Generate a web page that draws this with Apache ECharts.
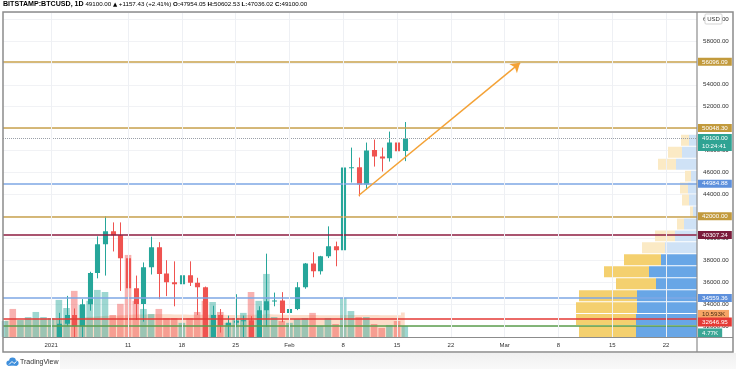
<!DOCTYPE html>
<html><head><meta charset="utf-8">
<script src="https://cdn.jsdelivr.net/npm/echarts@6/dist/echarts.min.js"></script>
<style>html,body{margin:0;padding:0;background:#fff;}#c{width:736px;height:369px;}</style>
</head><body><div id="c"></div>
<script>
// ---------- data ----------
const firstDate = '2020-12-26';
const opens  = [24700,26450,26250,27050,27370,28880,28990,
  29400,32200,33000,31970,33980,36830,39450,40640,40270,
  38180,35450,34000,37360,39180,36780,36000,35820,36640,35950,
  35540,30850,33000,32050,32300,32480,32520,30400,33450,34270,34330,
  33180,33545,35545,37700,37000,38360,39270,38900,46450,46480,44900,48050,47450,47300,48730,47954.05];
const highs  = [26800,28400,27450,27400,28990,29300,29600,
  33200,34750,33600,34450,36950,40180,42000,41450,41450,
  38300,36600,37800,40150,39650,38000,37900,37450,37900,36400,
  35600,33850,33550,32950,34900,32950,32900,33800,38600,35050,35090,
  34730,36000,37750,38730,38400,41090,39700,46730,48270,47360,48730,49000,48270,49730,49180,50602.53];
const lows   = [24500,25900,26100,25880,27320,27850,28700,
  29000,32000,28100,29900,33400,36350,36600,38800,35200,
  30400,32550,32400,36700,34450,34730,33800,34750,35650,33000,
  30100,28850,31400,31000,31900,30850,29250,29900,31950,33800,32350,
  32350,33450,35400,36450,36700,38200,37450,38090,45090,43820,44450,46540,46090,47000,46000,47036.02];
const closes = [26450,26250,27050,27370,28880,28990,29400,
  32200,33000,31970,33980,36830,39450,40640,40270,38180,
  35450,34000,37360,39180,36750,36000,35820,36640,35950,35540,
  30850,33000,32050,32300,32480,32520,30400,33450,34270,34330,33180,
  33545,35545,37700,37000,38360,39270,38900,46450,46480,44900,48000,47450,47270,48730,47942.57,49100.00];
const volumesK = [6.9,12.1,7.3,8.6,10.8,8.6,8.2,
  16.0,12.5,19.9,13.8,15.6,20.3,19.4,9.5,14.3,
  35.4,15.6,12.1,9.9,12.1,8.2,8.2,6.1,8.2,10.8,
  15.6,15.1,10.8,6.1,8.2,10.4,19.4,15.6,27.2,8.6,6.9,
  6.1,7.8,8.2,10.4,4.8,8.2,5.6,16.9,11.2,8.6,8.6,5.6,3.9,5.2,6.9,4.77];
const volumeMAK = [7.2,7.3,7.3,7.4,7.5,7.5,7.6,
  7.8,8.0,8.3,8.5,8.7,9.0,9.2,9.3,9.4,
  9.6,9.7,9.7,9.8,9.8,9.8,9.7,9.7,9.6,9.6,
  9.6,9.6,9.6,9.5,9.5,9.5,9.6,9.6,9.8,9.7,9.6,
  9.5,9.5,9.5,9.5,9.4,9.4,9.4,9.5,9.5,9.5,9.5,9.5,9.4,9.4,9.4,10.593];
const xTickDates  = ['2021-01-01','2021-01-11','2021-01-18','2021-01-25','2021-02-01','2021-02-08','2021-02-15','2021-02-22','2021-03-01','2021-03-08','2021-03-15','2021-03-22'];
const xTickLabels = ['2021','11','18','25','Feb','8','15','22','Mar','8','15','22'];
const levelPrices = [56096.09, 50048.30, 44984.88, 42000.00, 40307.24, 34559.36, 32646.95];
const levelKinds  = ['gold','gold','blue','gold','maroon','blue','red'];
const plainLevel  = 32000;
const lastPrice = 49100.00;
const countdown = '10:24:41';
const arrowFrom = ['2021-02-10', 43900];
const arrowTo   = ['2021-03-03', 56000];
const profileLow  = [31000,32090,33180,34270,35360,36450,37540,38630,39720,40810,41900,42990,44080,45170,46260,47350,48440];
const profileRowH = 1090;
const profileUp   = [61,61,60,60,41,48,36,32,22,13,4,8,9,6,21,15,8];
const profileDown = [57,60,61,58,40,45,37,23,20,7,3,7,8,6,18,14,8];
const profileInVA = [1,1,1,1,1,1,1,0,0,0,0,0,0,0,0,0,0];

// ---------- helpers ----------
const DAY0 = Date.UTC(2021,0,1);
const dayNum = s => { const [y,m,d] = s.split('-').map(Number); return Math.round((Date.UTC(y,m-1,d)-DAY0)/86400000); };
const d0 = dayNum(firstDate);
const xs = opens.map((_, i) => d0 + i);
const candleData = xs.map((x,i)=>[x, opens[i], closes[i], lows[i], highs[i]]);
const UP='#26a69a', DN='#ef5350';
const volData = xs.map((x,i)=>({value:[x, volumesK[i]], itemStyle:{color: closes[i]>=opens[i]?'rgba(38,166,154,0.45)':'rgba(239,83,80,0.45)'}}));
const maData = xs.map((x,i)=>[x, volumeMAK[i]]);
const tickDays = xTickDates.map(dayNum);
const tickMap = {}; tickDays.forEach((d,i)=>tickMap[d]=xTickLabels[i]);
const kindStyle = {
  gold:  {line:'#c9a24c', bg:'#c29a3c', fg:'#fff'},
  blue:  {line:'#7ea7e4', bg:'#5d90dc', fg:'#fff'},
  maroon:{line:'#8e1d40', bg:'#7a1c3b', fg:'#fff'},
  red:   {line:'#e53935', bg:'#e53935', fg:'#fff'}
};
const FONT = '"Liberation Sans", Arial, sans-serif';
const lblBase = {show:true, position:'end', distance:1, fontSize:6.2, fontFamily:FONT, padding:[1.5,4,0.5,4], lineHeight:6};
const NOLINE = {color:'rgba(0,0,0,0)', width:0};

const levelLines = levelPrices.map((p,i)=>{
  const s = kindStyle[levelKinds[i]];
  const lab = Object.assign({}, lblBase, {formatter:p.toFixed(2), backgroundColor:s.bg, color:s.fg});
  if (levelKinds[i]==='red') { lab.offset=[0,3]; lab.padding=[2,4,1,4]; }
  return {yAxis:p, lineStyle:{color:s.line, width:1.5, type:'solid'}, label:lab};
});
levelLines.push({yAxis:plainLevel, lineStyle:{color:'#5b9e4d', width:1.5, type:'solid'}, label:{show:false}});
levelLines.push({yAxis:lastPrice, lineStyle:{color:'#9aa0a8', width:1, type:'dotted'},
  label:Object.assign({}, lblBase, {formatter:lastPrice.toFixed(2)+'\n'+countdown, backgroundColor:'#2fa393', color:'#fff', lineHeight:8, padding:[1,4,0,4], offset:[0,4]})});
const gridLinesX = tickDays.map(d=>({xAxis:d, lineStyle:{color:'#eef0f4', width:1, type:'solid'}, label:{show:false}}));

const last = closes.length-1;
const chg = closes[last]-closes[last-1];
const pct = chg/closes[last-1]*100;
const headerText = '{t|BITSTAMP:BTCUSD, 1D} {p|'+closes[last].toFixed(2)+'} {u|▲} {p|+'+chg.toFixed(2)+' (+'+pct.toFixed(2)+'%)} '+
  '{k|O:}{v|'+opens[last].toFixed(2)+'} {k|H:}{v|'+highs[last].toFixed(2)+'} {k|L:}{v|'+lows[last].toFixed(2)+'} {k|C:}{v|'+closes[last].toFixed(2)+'}';

const chart = echarts.init(document.getElementById('c'));
chart.setOption({
  animation:false,
  backgroundColor:'#ffffff',
  grid:{left:3, right:39, top:12.4, bottom:32},
  xAxis:[
    {type:'value', min:-6.27, max:84.02, axisLine:{show:false}, axisTick:{show:false}, splitLine:{show:false},
     axisLabel:{customValues:tickDays, formatter:v=>tickMap[v]||'', fontSize:6, fontFamily:FONT, color:'#333', margin:5}},
    {type:'value', min:0, max:694, inverse:true, show:false}
  ],
  yAxis:[
    {type:'value', position:'right', min:31000, max:60600, minInterval:2000, maxInterval:2000, splitNumber:15,
     axisLine:{show:false}, axisTick:{show:false},
     splitLine:{show:true, lineStyle:{color:'#f1f2f5', width:1}},
     axisLabel:{formatter:v=>v.toFixed(2), fontSize:6.2, fontFamily:FONT, color:'#333', margin:6, showMinLabel:false, showMaxLabel:false}},
    {type:'value', min:0, max:140, show:false}
  ],
  series:[
    {type:'line', name:'volMA', xAxisIndex:0, yAxisIndex:1, data:maData, step:'middle', symbol:'none', z:1,
     lineStyle:{width:0}, areaStyle:{color:'rgba(245,145,85,0.45)'}},
    {type:'bar', name:'volume', xAxisIndex:0, yAxisIndex:1, data:volData, barWidth:6.6, z:2,
     markLine:{silent:true, symbol:['none','none'], z:4, data:[
       {yAxis:volumeMAK[last], lineStyle:NOLINE, label:Object.assign({}, lblBase, {formatter:volumeMAK[last].toFixed(3)+'K', backgroundColor:'#f6a566', color:'#4a2a10', offset:[0,1.5]})},
       {yAxis:volumesK[last], lineStyle:NOLINE, label:Object.assign({}, lblBase, {formatter:volumesK[last].toFixed(2)+'K', backgroundColor:'#3aa796', color:'#fff', padding:[2,4,1,4], offset:[0,7]})}
     ]}},
    {type:'custom', name:'profile', xAxisIndex:1, yAxisIndex:0, z:3, clip:true,
     data:profileLow.map((lo,i)=>[lo, lo+profileRowH, profileUp[i], profileDown[i], profileInVA[i]]),
     renderItem:(params, api)=>{
       const lo=api.value(0), hi=api.value(1), b=api.value(2), yv=api.value(3), va=api.value(4);
       const p0=api.coord([0,lo]), p1=api.coord([b,hi]), p2=api.coord([b+yv,hi]);
       const h = p0[1]-p1[1]-1;
       return {type:'group', children:[
         {type:'rect', shape:{x:p1[0], y:p1[1]+1, width:p0[0]-p1[0], height:h}, style:{fill: va?'#68a6e6':'#cfe2f6'}},
         {type:'rect', shape:{x:p2[0], y:p1[1]+1, width:p1[0]-p2[0], height:h}, style:{fill: va?'#f4d06f':'#fbeac5'}}
       ]};
     }},
    {type:'custom', name:'BTCUSD', xAxisIndex:0, yAxisIndex:0, data:candleData, z:4, clip:true,
     encode:{x:0, y:[1,2,3,4]},
     renderItem:(params, api)=>{
       const x=api.value(0), o=api.value(1), c=api.value(2), l=api.value(3), h=api.value(4);
       const po=api.coord([x,o]), pc=api.coord([x,c]), pl=api.coord([x,l]), ph=api.coord([x,h]);
       const w = api.size([1,0])[0]*0.66;
       const col = c>=o?UP:DN;
       const cx = Math.round(po[0])+0.5;
       const top = Math.min(po[1],pc[1]);
       const bh = Math.max(Math.abs(po[1]-pc[1]), 1);
       return {type:'group', children:[
         {type:'line', shape:{x1:cx, y1:ph[1], x2:cx, y2:pl[1]}, style:{stroke:col, lineWidth:1}},
         {type:'rect', shape:{x:cx-w/2, y:top, width:w, height:bh}, style:{fill:col}}
       ]};
     }},
    {type:'line', name:'levels', xAxisIndex:0, yAxisIndex:0, data:[], z:5,
     markLine:{silent:true, symbol:['none','none'], z:5, data:levelLines.concat(gridLinesX,
       [[{coord:[dayNum(arrowFrom[0]), arrowFrom[1]], symbol:'none'},
         {coord:[dayNum(arrowTo[0]), arrowTo[1]], symbol:'arrow', symbolSize:9,
          lineStyle:{color:'#f4a236', width:1.5, type:'solid'}, label:{show:false}}]]
     )}}
  ],
  graphic:[
    {type:'text', left:3, top:1, z:20, style:{text:headerText, font:'6.2px '+FONT, rich:{
      t:{fontSize:7.1, fontWeight:'bold', color:'#131722', fontFamily:FONT},
      p:{fontSize:6.2, color:'#4a4a4a', fontFamily:FONT},
      u:{fontSize:5.5, color:'#26a69a', fontFamily:'DejaVu Sans'},
      k:{fontSize:6.2, color:'#131722', fontWeight:'bold', fontFamily:FONT},
      v:{fontSize:6.2, color:'#41a895', fontFamily:FONT}}}},
    {type:'rect', z:20, shape:{x:3, y:12, width:730, height:340}, style:{fill:'none', stroke:'#8c8c8c', lineWidth:1.5}},
    {type:'line', z:20, shape:{x1:697, y1:12, x2:697, y2:352}, style:{stroke:'#8c8c8c', lineWidth:1.2}},
    {type:'line', z:20, shape:{x1:3, y1:337.5, x2:733, y2:337.5}, style:{stroke:'#8c8c8c', lineWidth:1.2}},
    {type:'rect', z:21, shape:{x:705, y:14, width:17, height:10, r:1}, style:{fill:'#fff', stroke:'#c8c8c8', lineWidth:0.8}},
    {type:'text', z:22, x:713.5, y:19, style:{text:'USD', font:'6px '+FONT, fill:'#333', align:'center', verticalAlign:'middle'}},
    {type:'rect', z:0, shape:{x:60, y:353, width:676, height:16}, style:{fill:new echarts.graphic.LinearGradient(0,0,0,1,[{offset:0,color:'#f0f0f0'},{offset:1,color:'#f9f9f9'}])}},
    {type:'group', z:20, x:5, y:357, children:[
      {type:'circle', shape:{cx:4, cy:6, r:2.6}, style:{fill:'#3f8fdc'}},
      {type:'circle', shape:{cx:7.5, cy:4, r:3.4}, style:{fill:'#3f8fdc'}},
      {type:'circle', shape:{cx:11, cy:6, r:2.6}, style:{fill:'#3f8fdc'}},
      {type:'rect', shape:{x:3, y:5.5, width:9, height:3.2}, style:{fill:'#3f8fdc'}},
      {type:'polyline', shape:{points:[[4,7.5],[7,4.5],[9,6.5],[11.5,4.5]]}, style:{stroke:'#fff', lineWidth:1, fill:'none'}}
    ]},
    {type:'text', z:20, x:20, y:362, style:{text:'TradingView', font:'7px '+FONT, fill:'#333', verticalAlign:'middle'}}
  ]
});
</script>
</body></html>
